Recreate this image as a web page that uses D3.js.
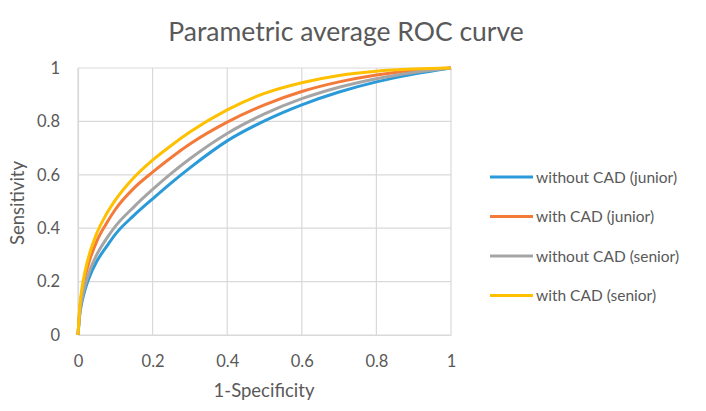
<!DOCTYPE html>
<html><head><meta charset="utf-8">
<script src="https://cdn.jsdelivr.net/npm/d3@7"></script>
<style>body{margin:0;background:#fff}svg{display:block}text{font-family:Lato,"Open Sans",sans-serif}</style>
</head><body><svg id="c" width="706" height="411"></svg>
<script>
const fpr = [0,0.005,0.01,0.02,0.03,0.05,0.075,0.1,0.15,0.2,0.25,0.3,0.4,0.5,0.6,0.7,0.8,0.9,1];
const withoutCadJunior = [0,0.08,0.12,0.175,0.215,0.275,0.328,0.377,0.448,0.51,0.57,0.626,0.727,0.802,0.862,0.91,0.948,0.977,1];
const withCadJunior    = [0,0.10,0.155,0.225,0.275,0.35,0.415,0.47,0.55,0.61,0.665,0.715,0.797,0.862,0.912,0.948,0.974,0.991,1];
const withoutCadSenior = [0,0.085,0.13,0.19,0.235,0.30,0.358,0.407,0.48,0.545,0.605,0.66,0.755,0.828,0.885,0.928,0.96,0.983,1];
const withCadSenior    = [0,0.11,0.17,0.245,0.30,0.38,0.45,0.505,0.59,0.655,0.71,0.76,0.843,0.905,0.945,0.972,0.988,0.996,1];
const seriesNames = ["without CAD (junior)","with CAD (junior)","without CAD (senior)","with CAD (senior)"];
const seriesValues = [withoutCadJunior, withCadJunior, withoutCadSenior, withCadSenior];
const colors = ["#2A9AD8","#F47A3A","#A5A5A5","#FFC000"];
const tickValues = [0,0.2,0.4,0.6,0.8,1];
const tickLabels = ["0","0.2","0.4","0.6","0.8","1"];

const svg = d3.select("#c");
const x = d3.scaleLinear().domain([0,1]).range([78,451]);
const y = d3.scaleLinear().domain([0,1]).range([335,68]);
const grid = "#D9D9D9", txt = "#595959";

// gridlines
svg.append("g").selectAll("line").data(tickValues).join("line")
  .attr("x1",d=>x(d)).attr("x2",d=>x(d)).attr("y1",y(0)).attr("y2",y(1))
  .attr("stroke",grid).attr("stroke-width",1.2);
svg.append("g").selectAll("line").data(tickValues).join("line")
  .attr("x1",x(0)).attr("x2",x(1)).attr("y1",d=>y(d)).attr("y2",d=>y(d))
  .attr("stroke",grid).attr("stroke-width",1.2);

// axes
const xa = svg.append("g").attr("transform",`translate(0,${y(0)})`)
  .call(d3.axisBottom(x).tickValues(tickValues).tickFormat((d,i)=>tickLabels[i]).tickSize(0).tickPadding(20));
const ya = svg.append("g").attr("transform",`translate(${x(0)},0)`)
  .call(d3.axisLeft(y).tickValues(tickValues).tickFormat((d,i)=>tickLabels[i]).tickSize(0).tickPadding(18));
[xa,ya].forEach(a=>{a.select(".domain").attr("stroke",grid).attr("stroke-width",1.2);
  a.selectAll("text").attr("font-size",16.5).attr("fill",txt).attr("font-family","Lato,'Open Sans',sans-serif");});

// curves
const line = d3.line().x((d,i)=>x(fpr[i])).y(d=>y(d)).curve(d3.curveMonotoneX);
svg.append("g").selectAll("path").data(seriesValues).join("path")
  .attr("d",line).attr("fill","none").attr("stroke",(d,i)=>colors[i])
  .attr("stroke-width",3).attr("stroke-linejoin","round");

// titles
svg.append("text").attr("x",346).attr("y",41).attr("text-anchor","middle")
  .attr("font-size",26.5).attr("fill",txt).text("Parametric average ROC curve");
svg.append("text").attr("x",264).attr("y",397).attr("text-anchor","middle")
  .attr("font-size",18.5).attr("fill",txt).text("1-Specificity");
svg.append("text").attr("transform","translate(24,203) rotate(-90)").attr("text-anchor","middle")
  .attr("font-size",18.5).attr("fill",txt).text("Sensitivity");

// legend
const lg = svg.append("g").selectAll("g").data(seriesNames).join("g")
  .attr("transform",(d,i)=>`translate(490,${177+i*39.5})`);
lg.append("line").attr("x1",0).attr("x2",43).attr("stroke",(d,i)=>colors[i]).attr("stroke-width",3);
lg.append("text").attr("x",46).attr("y",5.5).attr("font-size",15.5).attr("fill",txt).text(d=>d);
</script></body></html>
